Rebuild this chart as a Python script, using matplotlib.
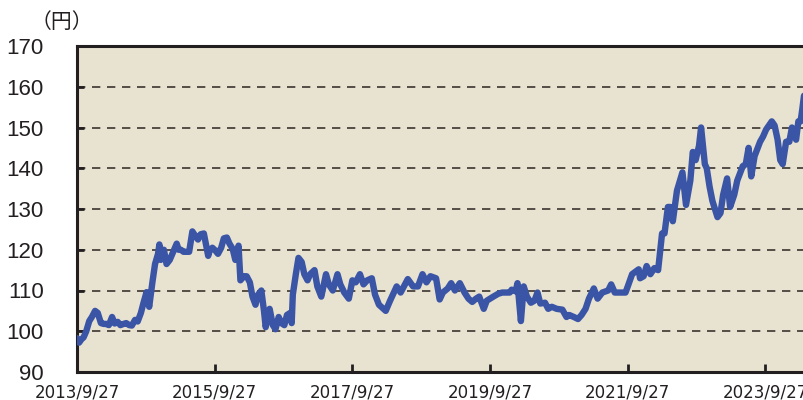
import matplotlib
matplotlib.use("Agg")
import matplotlib.pyplot as plt
import matplotlib.dates as mdates
import numpy as np
import pandas as pd

dates = ["2013-09-27","2013-10-08","2013-10-20","2013-11-01","2013-11-15","2013-12-01","2013-12-15","2014-01-01","2014-01-15",
"2014-02-01","2014-02-15","2014-03-01","2014-03-15","2014-04-01","2014-04-15","2014-05-01","2014-05-15","2014-06-01","2014-06-15",
"2014-07-01","2014-07-15","2014-08-01","2014-08-15","2014-09-01","2014-09-15","2014-10-01","2014-10-15","2014-11-01","2014-11-15",
"2014-12-01","2014-12-08","2014-12-15","2015-01-01","2015-01-15","2015-02-01","2015-02-15","2015-03-10","2015-03-20","2015-04-01",
"2015-04-15","2015-05-01","2015-05-15","2015-06-01","2015-06-15","2015-07-01","2015-07-15","2015-08-01","2015-08-24","2015-09-01",
"2015-09-15","2015-10-01","2015-10-15","2015-11-01","2015-11-15","2015-12-01","2015-12-15","2016-01-01","2016-01-15","2016-02-01",
"2016-02-11","2016-03-01","2016-03-15","2016-04-01","2016-04-15","2016-05-01","2016-05-15","2016-06-01","2016-06-15","2016-06-24",
"2016-07-15","2016-08-01","2016-08-15","2016-09-01","2016-09-15","2016-10-01","2016-10-15","2016-11-01","2016-11-09","2016-11-15",
"2016-12-01","2016-12-15","2017-01-01","2017-01-15","2017-02-01","2017-02-15","2017-03-10","2017-03-25","2017-04-15","2017-05-10",
"2017-05-25","2017-06-15","2017-07-10","2017-07-25","2017-08-15","2017-09-08","2017-09-27","2017-10-15","2017-11-06","2017-11-25",
"2017-12-15","2018-01-08","2018-01-25","2018-02-15","2018-03-23","2018-04-15","2018-05-20","2018-06-10","2018-07-18","2018-08-15",
"2018-09-10","2018-10-04","2018-10-25","2018-11-15","2018-12-15","2019-01-03","2019-01-20","2019-02-15","2019-03-05","2019-03-25",
"2019-04-20","2019-05-15","2019-06-05","2019-06-25","2019-07-15","2019-08-01","2019-08-25","2019-09-10","2019-09-27","2019-10-15",
"2019-11-10","2019-12-01","2019-12-15","2020-01-10","2020-01-20","2020-02-10","2020-02-20","2020-03-09","2020-03-24","2020-04-10",
"2020-05-01","2020-05-20","2020-06-05","2020-06-20","2020-07-15","2020-08-01","2020-08-20","2020-09-15","2020-10-15","2020-11-06",
"2020-11-20","2020-12-15","2021-01-06","2021-01-25","2021-02-15","2021-03-05","2021-03-31","2021-04-20","2021-05-15","2021-06-15",
"2021-07-01","2021-07-20","2021-08-15","2021-09-15","2021-09-27","2021-10-20","2021-11-24","2021-12-01","2021-12-20","2022-01-05",
"2022-01-25","2022-02-15","2022-03-07","2022-03-15","2022-03-28","2022-04-10","2022-04-28","2022-05-10","2022-05-24","2022-06-15",
"2022-07-14","2022-08-02","2022-08-25","2022-09-07","2022-09-22","2022-10-10","2022-10-21","2022-11-10","2022-11-20","2022-12-05",
"2022-12-20","2023-01-16","2023-02-01","2023-02-15","2023-03-08","2023-03-24","2023-04-15","2023-05-01","2023-05-30","2023-06-15",
"2023-06-30","2023-07-14","2023-08-01","2023-08-30","2023-09-15","2023-10-01","2023-10-31","2023-11-15","2023-12-01","2023-12-15",
"2023-12-28","2024-01-15","2024-02-01","2024-02-15","2024-03-08","2024-03-20","2024-04-01","2024-04-10","2024-04-19"]

usdjpy = [98.3,97.2,98.0,98.5,100.0,102.5,103.5,105.0,104.5,
102.0,101.8,101.8,101.5,103.5,101.9,102.3,101.5,101.8,102.0,
101.5,101.4,102.8,102.4,104.5,107.0,109.6,106.0,112.0,116.5,
119.0,121.3,117.5,120.0,116.5,117.5,119.0,121.5,120.0,120.0,
119.5,119.5,119.5,124.5,123.5,122.5,123.8,124.0,118.5,119.8,
120.5,119.8,119.0,120.5,122.8,123.0,121.5,120.2,117.5,121.0,
112.5,113.5,113.5,112.0,108.5,106.5,109.0,110.0,105.0,101.0,
105.5,101.5,100.5,103.5,102.0,101.5,104.0,104.5,102.0,109.0,
114.0,118.0,117.0,114.0,112.5,114.0,115.0,111.0,108.5,114.0,
111.5,110.0,114.0,111.5,109.5,108.0,112.5,112.0,114.0,111.5,
112.5,113.0,109.0,106.5,105.0,107.5,111.0,109.5,112.8,111.0,
111.0,114.0,112.0,113.5,113.0,107.8,109.5,110.5,111.8,110.0,
111.8,109.5,108.0,107.2,108.0,108.5,105.5,107.5,108.0,108.5,
109.2,109.5,109.5,109.5,110.2,109.8,111.8,102.5,111.0,108.5,
107.0,107.5,109.5,106.8,107.0,105.5,106.0,105.5,105.3,103.5,
104.0,103.5,103.0,104.0,105.5,108.0,110.5,108.0,109.5,110.0,
111.5,109.5,109.5,109.5,111.0,114.0,115.2,113.0,113.5,116.0,
114.0,115.5,115.0,118.5,124.0,124.0,130.5,130.5,127.0,134.5,
139.0,131.0,137.0,144.0,142.0,145.5,150.0,141.0,140.0,135.5,
132.0,128.0,129.0,133.5,137.5,130.5,133.5,137.0,140.5,141.0,
145.0,138.0,143.0,146.5,147.8,149.5,151.5,150.5,147.0,142.0,
141.0,146.5,146.5,150.0,147.0,151.5,151.5,154.5,157.8]

tick_dates = ["2013-09-27","2015-09-27","2017-09-27","2019-09-27","2021-09-27","2023-09-27"]
tick_labels = ["2013/9/27","2015/9/27","2017/9/27","2019/9/27","2021/9/27","2023/9/27"]
y_ticks = [90,100,110,120,130,140,150,160,170]

x = pd.to_datetime(dates)

fig = plt.figure(figsize=(8.04, 4.00), dpi=100)
ax = fig.add_axes([77/804, 28/400, 1 - 77/804, 326/400])
ax.set_facecolor("#E8E2D1")
ax.plot(x, usdjpy, color="#3A55A5", lw=4.6, solid_joinstyle="round", solid_capstyle="round", zorder=3)

ax.set_ylim(90, 170)
ax.set_yticks(y_ticks)
ax.set_xlim(pd.Timestamp(dates[0]), pd.Timestamp(dates[-1]))
ax.set_xticks(pd.to_datetime(tick_dates))
ax.set_xticklabels(tick_labels, family=["Liberation Sans Narrow", "DejaVu Sans"], fontsize=12, color="#231F20")
for lbl in ax.get_yticklabels():
    lbl.set_fontsize(16)
    lbl.set_family(["Liberation Sans", "DejaVu Sans"])
    lbl.set_color("#231F20")

for yv in y_ticks[1:-1]:
    ax.axhline(yv, color="#3A3530", lw=1.2, ls=(0, (5, 4)), zorder=1)

for s in ["left", "bottom", "top"]:
    ax.spines[s].set_linewidth(2.2)
    ax.spines[s].set_color("#231F20")
ax.spines["right"].set_visible(False)

ax.tick_params(axis="y", direction="in", length=5, width=2, pad=24, colors="#231F20")
ax.tick_params(axis="x", direction="in", length=6, width=2, pad=8, colors="#231F20")

fig.text(62/804, 1 - 22/400, "（円）", family=["Noto Sans CJK JP", "DejaVu Sans"], fontsize=15,
         color="#231F20", va="center", ha="center")

fig.savefig("out.png", dpi=100)
